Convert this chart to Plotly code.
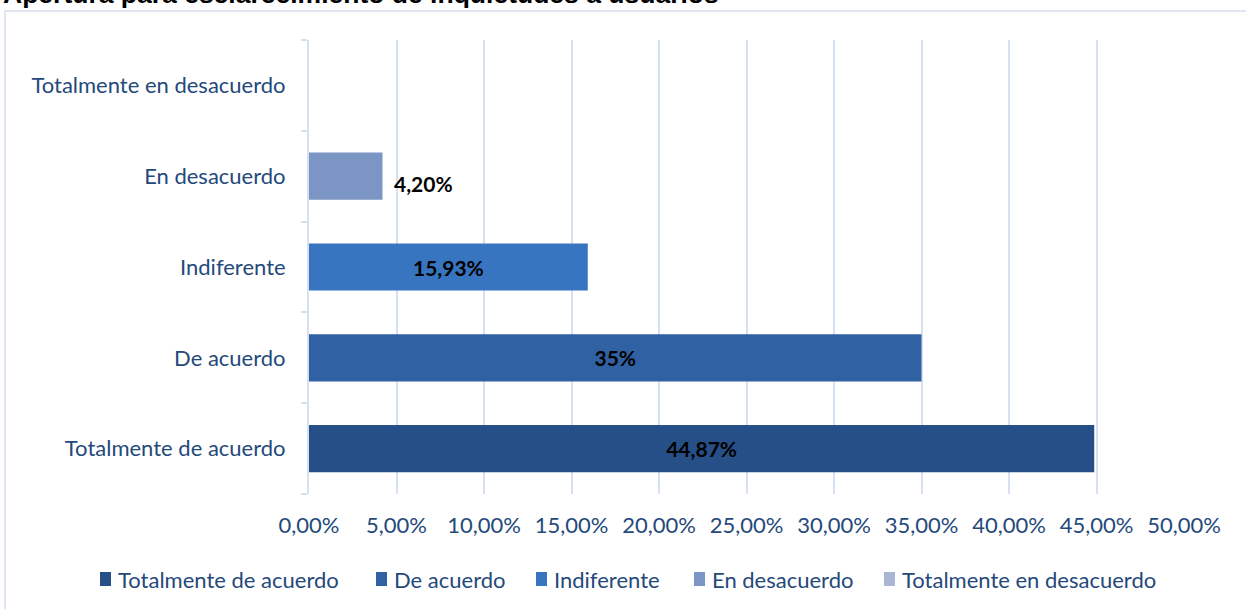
import plotly.graph_objects as go

categories = ["Totalmente de acuerdo", "De acuerdo", "Indiferente", "En desacuerdo", "Totalmente en desacuerdo"]
values = [44.87, 35.0, 15.93, 4.20, 0.0]
value_labels = ["44,87%", "35%", "15,93%", "4,20%", ""]
colors = ["#274f87", "#3062a3", "#3775c0", "#7b95c4", "#aab6d3"]
inside_label = [True, True, True, False, False]
x_ticks = [0, 5, 10, 15, 20, 25, 30, 35, 40, 45, 50]
x_tick_text = ["0,00%", "5,00%", "10,00%", "15,00%", "20,00%", "25,00%", "30,00%", "35,00%", "40,00%", "45,00%", "50,00%"]
title = "Apertura para esclarecimiento de inquietudes a usuarios"

TXT = "#24497a"
GRID = "#d6e0f0"
FONT = "Lato"

W, H = 1246, 609
L, R, T, B = 309, 62, 40, 115
PW, PH = W - L - R, H - T - B


def px_x(p):
    return (p - L) / PW


def px_y(p):
    return (H - B - p) / PH


fig = go.Figure()
for cat, val, lab, col, ins in zip(categories, values, value_labels, colors, inside_label):
    fig.add_trace(go.Bar(
        y=[cat], x=[val], orientation="h", name=cat,
        marker=dict(color=col, line=dict(width=0)),
        width=0.52,
        text=[f"<b>{lab}</b>" if (lab and ins) else ""],
        textposition="inside" if ins else "none",
        insidetextanchor="middle",
        textfont=dict(family=FONT, size=21, color="black"),
        showlegend=False,
    ))
    if lab and not ins:
        fig.add_annotation(x=val, y=cat, xref="x", yref="y", text=f"<b>{lab}</b>",
                           xanchor="left", xshift=9, yshift=-7, showarrow=False,
                           font=dict(family=FONT, size=21, color="black"))

fig.update_layout(
    width=W, height=H,
    margin=dict(l=L, r=R, t=T, b=B),
    paper_bgcolor="white", plot_bgcolor="white",
    barmode="overlay",
    showlegend=False,
    font=dict(family=FONT, size=22, color=TXT),
    xaxis=dict(range=[0, 50], tickvals=x_ticks, ticktext=x_tick_text,
               showgrid=True, gridcolor=GRID, gridwidth=2, zeroline=False,
               showline=False, ticks="", ticklabelstandoff=16,
               tickfont=dict(family=FONT, size=22, color=TXT)),
    yaxis=dict(type="category", categoryorder="array", categoryarray=categories,
               showgrid=False, showline=True, linecolor=GRID, linewidth=2,
               ticks="outside", tickson="boundaries", ticklen=6, tickcolor=GRID, tickwidth=2,
               ticklabelstandoff=17,
               tickfont=dict(family=FONT, size=22, color=TXT)),
)

# custom legend (square + label), laid out like the reference
legend_sq_x = [100, 376, 536, 694, 884]
for cat, col, sx in zip(categories, colors, legend_sq_x):
    fig.add_shape(type="rect", xref="paper", yref="paper",
                  x0=px_x(sx), x1=px_x(sx + 11), y0=px_y(586), y1=px_y(572),
                  fillcolor=col, line=dict(width=0))
    fig.add_annotation(text=cat, xref="paper", yref="paper", x=px_x(sx + 16), y=px_y(579),
                       xanchor="left", yanchor="middle", showarrow=False,
                       font=dict(family=FONT, size=22, color=TXT))

# chart frame
fig.add_shape(type="rect", xref="paper", yref="paper",
              x0=px_x(5), x1=px_x(1262), y0=px_y(625), y1=px_y(11),
              line=dict(color=GRID, width=1.5), fillcolor="rgba(0,0,0,0)", layer="below")

fig.add_annotation(text=f"<b>{title}</b>", xref="paper", yref="paper",
                   x=px_x(1), xanchor="left",
                   y=px_y(10.5), yanchor="bottom", showarrow=False,
                   font=dict(family="Liberation Sans", size=26.5, color="black"))

fig.write_html("out.html", config={"displayModeBar": False},
               post_script="document.body.style.margin='0';")
